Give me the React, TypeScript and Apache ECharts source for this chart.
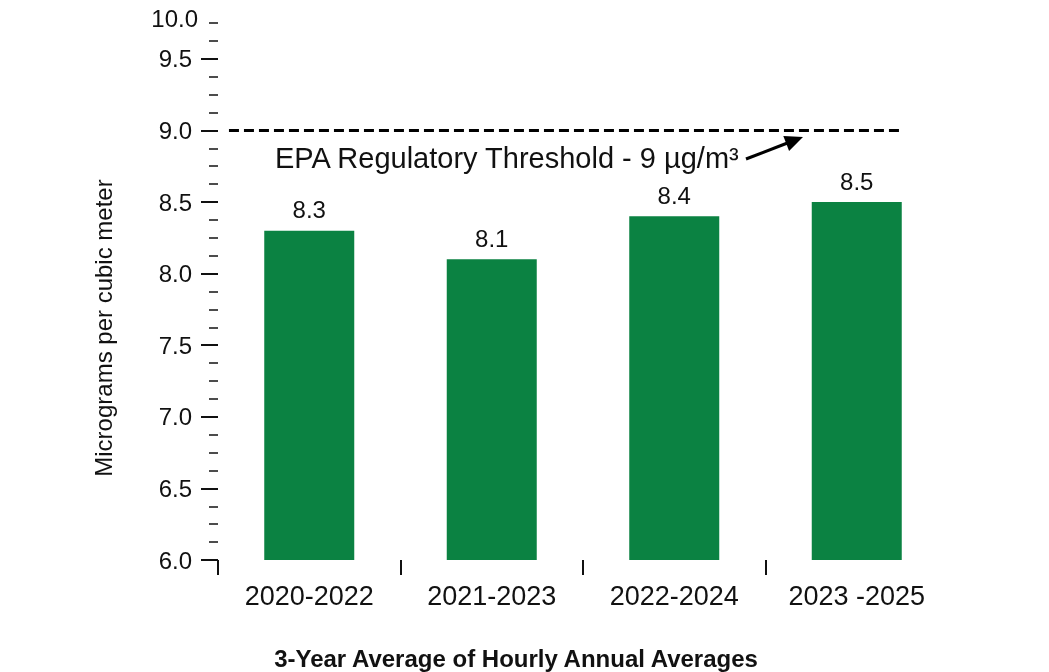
import React, { useEffect, useRef } from 'react';
import * as echarts from 'echarts';

// Three-year rolling averages of hourly PM2.5 annual averages
const categories = ['2020-2022', '2021-2023', '2022-2024', '2023 -2025'];
const averages = [8.3, 8.1, 8.4, 8.5];

// Regulatory threshold and its annotation
const threshold = 9;
const thresholdLabel = 'EPA Regulatory Threshold - 9 µg/m³';
// horizontal extent of the dashed threshold line, in category-band units
const thresholdSpan = [0.06, 3.75];

// Value axis ticks
const yMin = 6;
const yMax = 9.75;
const yMajorTicks = [6, 6.5, 7, 7.5, 8, 8.5, 9, 9.5];
const yMinorInterval = 0.125;
const yTopTick = 9.75;
const yTopTickLabel = '10.0';

// Category boundaries that carry a tick mark below the plot
const boundaryTicks = [0, 1, 2, 3];

const yTitle = 'Micrograms per cubic meter';
const xTitle = '3-Year Average of Hourly Annual Averages';

const FONT = "'Liberation Sans', Arial, Helvetica, sans-serif";
const INK = '#111111';
const BAR_GREEN = '#0b8242';

export default function App() {
  const ref = useRef<HTMLDivElement>(null);

  useEffect(() => {
    if (!ref.current) return;
    const chart = echarts.init(ref.current, undefined, { renderer: 'svg' });

    // arrow from the annotation towards the threshold line
    const tail = [746, 159];
    const tip = [803, 137];
    const dx = tip[0] - tail[0];
    const dy = tip[1] - tail[1];
    const len = Math.hypot(dx, dy);
    const ux = dx / len;
    const uy = dy / len;
    const headLen = 18;
    const headHalf = 8;
    const bx = tip[0] - ux * headLen;
    const by = tip[1] - uy * headLen;

    chart.setOption({
      animation: false,
      textStyle: { fontFamily: FONT },
      grid: { left: 218, right: 101, top: 23, bottom: 112 },
      xAxis: [
        {
          type: 'category',
          data: categories,
          position: 'bottom',
          axisLine: { show: false },
          axisTick: { show: false },
          splitLine: { show: false },
          axisLabel: { fontSize: 27, color: INK, margin: 22, fontFamily: FONT },
        },
        {
          type: 'value',
          min: 0,
          max: 4,
          position: 'bottom',
          axisLine: { show: false },
          splitLine: { show: false },
          axisLabel: { show: false },
          axisTick: {
            show: true,
            customValues: boundaryTicks,
            length: 15,
            lineStyle: { color: INK, width: 2 },
          },
        },
      ],
      yAxis: [
        {
          type: 'value',
          min: yMin,
          max: yMax,
          interval: 0.5,
          position: 'left',
          axisLine: { show: false },
          splitLine: { show: false },
          axisTick: {
            show: true,
            customValues: yMajorTicks,
            length: 17,
            lineStyle: { color: INK, width: 2 },
          },
          axisLabel: {
            customValues: yMajorTicks,
            margin: 26,
            fontSize: 24,
            color: INK,
            fontFamily: FONT,
            formatter: (v: number) => v.toFixed(1),
          },
        },
        {
          type: 'value',
          min: yMin,
          max: yMax,
          interval: yMinorInterval,
          position: 'left',
          axisLine: { show: false },
          splitLine: { show: false },
          axisTick: {
            show: true,
            length: 9,
            lineStyle: { color: INK, width: 1.5 },
          },
          axisLabel: {
            customValues: [yTopTick],
            margin: 20,
            color: INK,
            fontFamily: FONT,
            formatter: () => '{t|' + yTopTickLabel + '}',
            rich: {
              t: {
                fontSize: 24,
                fontFamily: FONT,
                color: INK,
                padding: [0, 0, 10, 0],
              },
            },
          },
        },
      ],
      series: [
        {
          type: 'bar',
          xAxisIndex: 0,
          yAxisIndex: 0,
          data: averages,
          barWidth: 90,
          itemStyle: { color: BAR_GREEN },
          label: {
            show: true,
            position: 'top',
            distance: 9,
            fontSize: 24,
            color: INK,
            fontFamily: FONT,
            formatter: (p: any) => Number(p.value).toFixed(1),
          },
        },
        {
          type: 'line',
          xAxisIndex: 1,
          yAxisIndex: 0,
          data: thresholdSpan.map((x) => [x, threshold]),
          symbol: 'none',
          silent: true,
          lineStyle: { type: [10, 5], width: 3, color: '#000000' },
        },
      ],
      graphic: [
        {
          type: 'text',
          x: 275,
          y: 158,
          style: {
            text: thresholdLabel,
            fontSize: 29,
            fontFamily: FONT,
            fill: INK,
            verticalAlign: 'middle',
          },
        },
        {
          type: 'line',
          shape: { x1: tail[0], y1: tail[1], x2: bx + ux * 2, y2: by + uy * 2 },
          style: { stroke: '#000000', lineWidth: 3 },
        },
        {
          type: 'polygon',
          shape: {
            points: [
              [tip[0], tip[1]],
              [bx - uy * headHalf, by + ux * headHalf],
              [bx + uy * headHalf, by - ux * headHalf],
            ],
          },
          style: { fill: '#000000' },
        },
        {
          type: 'text',
          x: 103,
          y: 328,
          rotation: Math.PI / 2,
          style: {
            text: yTitle,
            fontSize: 24,
            fontFamily: FONT,
            fill: INK,
            align: 'center',
            verticalAlign: 'middle',
          },
        },
        {
          type: 'text',
          x: 516,
          y: 658,
          style: {
            text: xTitle,
            fontSize: 24,
            fontWeight: 'bold',
            fontFamily: FONT,
            fill: INK,
            align: 'center',
            verticalAlign: 'middle',
          },
        },
      ],
    });

    return () => chart.dispose();
  }, []);

  return (
    <div
      ref={ref}
      style={{ position: 'fixed', left: 0, top: 0, width: 1049, height: 672 }}
    />
  );
}
